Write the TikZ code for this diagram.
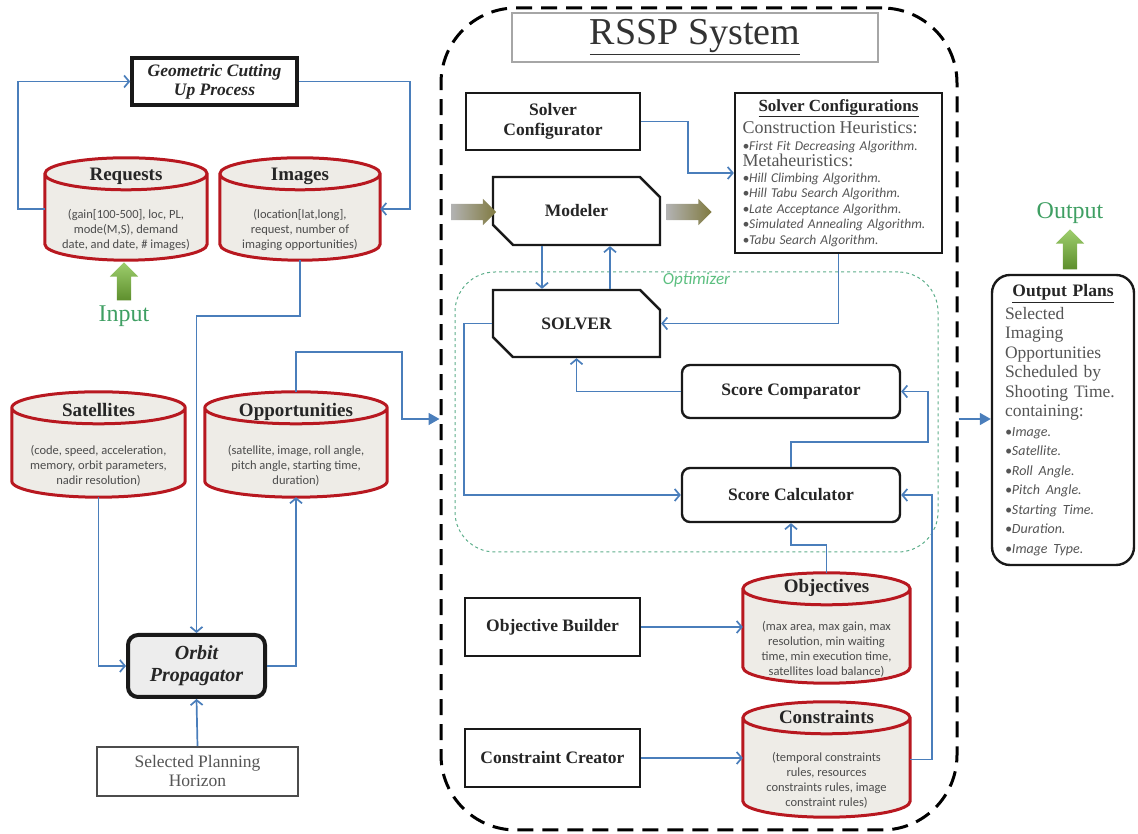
\documentclass[tikz,border=0pt]{standalone}
\usepackage{fontspec}
\setmainfont{Liberation Serif}
\newfontfamily\bodysans{Carlito}
\usetikzlibrary{arrows.meta,positioning,calc,backgrounds,shapes.misc,shapes.arrows}
\definecolor{linkblue}{HTML}{4A7EBB}
\definecolor{storered}{HTML}{B81820}
\definecolor{storefill}{HTML}{EEECE7}
\definecolor{optgreen}{HTML}{5DAE8B}
\definecolor{optlabel}{HTML}{5CBF80}
\definecolor{inoutgreen}{HTML}{3F9F63}
\definecolor{arrowgreen}{HTML}{7DBE3C}
\definecolor{olivearrow}{HTML}{807A40}
\definecolor{textgray}{HTML}{555555}

\newcommand{\dbhead}[1]{{\rmfamily\bfseries\fontsize{19}{22}\selectfont\textcolor{black!85}{#1}}}
\newcommand{\algitem}[1]{{\bodysans\itshape\fontsize{13.5}{15}\selectfont\textbullet#1}}
\newcommand{\planitem}[1]{{\bodysans\itshape\fontsize{14}{19.5}\selectfont\textbullet#1}}
% database drum drawn round a named node
\newcommand{\drumshape}[1]{%
  \path[storebody] let \p1=(#1.north west), \p2=(#1.south east), \n1={(\x2-\x1)/2} in
    (\x1,\y1-16pt) -- (\x1,\y2+16pt)
    arc[start angle=180, end angle=360, x radius=\n1, y radius=16pt]
    -- (\x2,\y1-16pt)
    arc[start angle=0, end angle=180, x radius=\n1, y radius=16pt] -- cycle
    (\x1,\y1-16pt) arc[start angle=180, end angle=360, x radius=\n1, y radius=16pt];}

\begin{document}
\begin{tikzpicture}[x=1pt, y=1pt,
  font=\fontsize{17.5}{20}\selectfont,
  box/.style={draw=black!90, line width=2.4pt, fill=white, text=black!85, align=center,
              inner sep=2pt, font=\bfseries\fontsize{17.5}{20}\selectfont},
  chambox/.style={box, chamfered rectangle, chamfered rectangle corners={north east,south west},
                  chamfered rectangle xsep=12pt, chamfered rectangle ysep=12pt},
  scorebox/.style={box, rounded corners=8pt, minimum width=218, minimum height=53},
  cutbox/.style={box, line width=3.6pt, font=\bfseries\itshape\fontsize{17.5}{19}\selectfont},
  orbitbox/.style={box, line width=4pt, rounded corners=10pt, fill=black!7,
                   font=\bfseries\itshape\fontsize{20}{22}\selectfont},
  plainbox/.style={draw=black!70, line width=1.6pt, fill=white, text=textgray, align=center,
                   font=\fontsize{17.5}{19}\selectfont},
  store/.style={inner sep=0pt, align=center, text=black!70,
                font=\bodysans\fontsize{12.5}{15}\selectfont},
  storebody/.style={draw=storered, line width=3pt, fill=storefill},
  listbox/.style={draw=black!90, line width=2.4pt, fill=white, text=textgray, align=left, inner sep=0pt},
  rsspframe/.style={draw=black, line width=3pt, dash pattern=on 16pt off 9pt, rounded corners=75pt},
  optframe/.style={draw=optgreen, line width=1pt, dash pattern=on 3pt off 3pt, rounded corners=40pt},
  optcaption/.style={text=optlabel, font=\bodysans\itshape\fontsize{17}{19}\selectfont, inner sep=1pt},
  link/.style={-{Straight Barb[length=5pt,width=12pt]}, line width=1.7pt, draw=linkblue},
  solidlink/.style={-{Triangle[length=11pt,width=12pt]}, line width=1.7pt, draw=linkblue},
  fatarrow/.style={single arrow, single arrow head extend=5pt, inner xsep=0pt, inner ysep=8pt,
                   minimum height=45pt, minimum width=26pt, left color=black!30, right color=olivearrow},
  greenarrow/.style={single arrow, shape border rotate=90, single arrow head extend=7pt, inner sep=7pt,
                     minimum height=38pt, minimum width=28pt,
                     top color=arrowgreen!75!white, bottom color=arrowgreen!75!black},
  greenlabel/.style={text=inoutgreen, font=\fontsize{24}{26}\selectfont, inner sep=0pt}
]
\useasboundingbox (0,0) rectangle (1138,834);

% left side: data preparation
\node[cutbox, minimum width=165, minimum height=47] (cutting) at (214.5,752.5) {Geometric Cutting\\Up Process};

\node[store, minimum width=162, minimum height=102] (requests) at (126,625)
  {\dbhead{Requests}\\[23pt](gain[100-500], loc, PL,\\mode(M,S), demand\\date, and date, \# images)};
\node[store, minimum width=160, minimum height=102] (images) at (300,625)
  {\dbhead{Images}\\[23pt](location[lat,long],\\request, number of\\imaging opportunities)};
\node[store, minimum width=173, minimum height=105] (satellites) at (98.5,389.5)
  {\dbhead{Satellites}\\[23pt](code, speed, acceleration,\\memory, orbit parameters,\\nadir resolution)};
\node[store, minimum width=182, minimum height=105] (opportunities) at (296,389.5)
  {\dbhead{Opportunities}\\[23pt](satellite, image, roll angle,\\pitch angle, starting time,\\duration)};

\node[greenarrow] (inarrow) at (124,549) {};
\node[greenlabel, below=5pt of inarrow] (inlabel) {Input};

\node[orbitbox, minimum width=137, minimum height=62] (orbit) at (196.5,168) {Orbit\\Propagator};
\node[plainbox, minimum width=201, minimum height=49] (horizon) at (197.5,62.5) {Selected Planning\\Horizon};

% RSSP system
\node[rsspframe, minimum width=516, minimum height=822] (rssp) at (699,415) {};
\node[draw=black!35, line width=1.2pt, fill=white, text=black!80, minimum width=366, minimum height=49,
      font=\fontsize{38}{40}\selectfont] (heading) at (695,796.5) {\underline{RSSP System}};

\node[box, minimum width=174, minimum height=57] (configurator) at (553,712.5) {Solver\\Configurator};
\node[listbox, text width=192pt, minimum width=207, minimum height=160,
      font=\fontsize{12.5}{15.5}\selectfont] (configs) at (838.5,661)
  {\makebox[192pt]{\bfseries\fontsize{17}{18}\selectfont\textcolor{black!85}{\underline{Solver Configurations}}}\\[4pt]
   {\fontsize{18}{18}\selectfont Construction Heuristics:}\\[1pt]
   \algitem{First Fit Decreasing Algorithm.}\\[1pt]
   {\fontsize{18}{18}\selectfont Metaheuristics:}\\
   \algitem{Hill Climbing Algorithm.}\\
   \algitem{Hill Tabu Search Algorithm.}\\
   \algitem{Late Acceptance Algorithm.}\\
   \algitem{Simulated Annealing Algorithm.}\\
   \algitem{Tabu Search Algorithm.}};

\node[chambox, minimum width=167, minimum height=68] (modeler) at (576.5,623) {Modeler};
\node[fatarrow] (feedin) at (469.5,622) {};
\node[fatarrow] (feedout) at (685,622) {};

\node[optframe, minimum width=483, minimum height=280] (optimizer) at (696.5,422) {};
\node[optcaption, below=0pt of optimizer.north] (optname) {Optimizer};

\node[chambox, minimum width=167, minimum height=67] (solver) at (576.5,510.5) {SOLVER};
\node[scorebox] (comparator) at (791,442.5) {Score Comparator};
\node[scorebox, minimum height=54] (calculator) at (791,339) {Score Calculator};

\node[box, minimum width=175, minimum height=58] (objbuilder) at (552.5,207) {Objective Builder};
\node[box, minimum width=175, minimum height=58] (concreator) at (552.5,76) {Constraint Creator};
\node[store, minimum width=167, minimum height=110] (objectives) at (826.5,206)
  {\dbhead{Objectives}\\[23pt](max area, max gain, max\\resolution, min waiting\\time, min execution time,\\satellites load balance)};
\node[store, minimum width=167, minimum height=115] (constraints) at (826.5,74.5)
  {\dbhead{Constraints}\\[23pt](temporal constraints\\rules, resources\\constraints rules, image\\constraint rules)};

% output
\node[listbox, rounded corners=18pt, text width=116pt, minimum width=142, minimum height=290,
      font=\fontsize{17.5}{19.5}\selectfont] (plans) at (1063,414)
  {\makebox[116pt]{\bfseries\textcolor{black!85}{\underline{Output Plans}}}\\[3pt]
   Selected\\Imaging\\Opportunities\\Scheduled by\\Shooting Time.\\containing:\\
   \planitem{Image.}\\\planitem{Satellite.}\\\planitem{Roll Angle.}\\\planitem{Pitch Angle.}\\
   \planitem{Starting Time.}\\\planitem{Duration.}\\\planitem{Image Type.}};
\node[greenarrow, minimum height=40pt] (outarrow) at (1070,581) {};
\node[greenlabel, above=5pt of outarrow] (outlabel) {Output};

% connectors
\draw[link] (requests.west) -- ++(-27,0) |- (cutting.west);
\draw[link] (cutting.east) -- ++(111,0) |- (images.east);
\draw[link] (images.south) -- ++(0,-56) -| (orbit.north);
\draw[link] (satellites.south) |- (orbit.west);
\draw[link] (orbit.east) -| (opportunities.south);
\draw[link] (horizon.north) -- (orbit.south);
\draw[solidlink] (opportunities.north) -- ++(0,40) -- ++(106,0) |- (rssp.west);
\draw[solidlink] (rssp.east) -- (rssp.east -| plans.west);

\draw[link] (configurator.east) -- ++(47,0) |- (configs.west);
\draw[link] ([xshift=-34.5]modeler.south) -- ([xshift=-34.5]solver.north);
\draw[link] ([xshift=33.5]solver.north) -- ([xshift=33.5]modeler.south);
\draw[link] (configs.south) |- (solver.east);
\draw[link] (solver.west) -- ++(-28,0) |- (calculator.west);
\draw[link] (comparator.west) -| (solver.south);
\draw[link] (calculator.north) -- ++(0,25) -- ++(137,0) |- (comparator.east);
\draw[link] (objectives.north) -- ++(0,28) -| (calculator.south);
\draw[link] (constraints.east) -- ++(22,0) |- (calculator.east);
\draw[link] (objbuilder.east) -- (objbuilder.east -| objectives.west);
\draw[link] (concreator.east) -- (concreator.east -| constraints.west);

\begin{scope}[on background layer]
  \drumshape{requests}
  \drumshape{images}
  \drumshape{satellites}
  \drumshape{opportunities}
  \drumshape{objectives}
  \drumshape{constraints}
\end{scope}
\end{tikzpicture}
\end{document}
